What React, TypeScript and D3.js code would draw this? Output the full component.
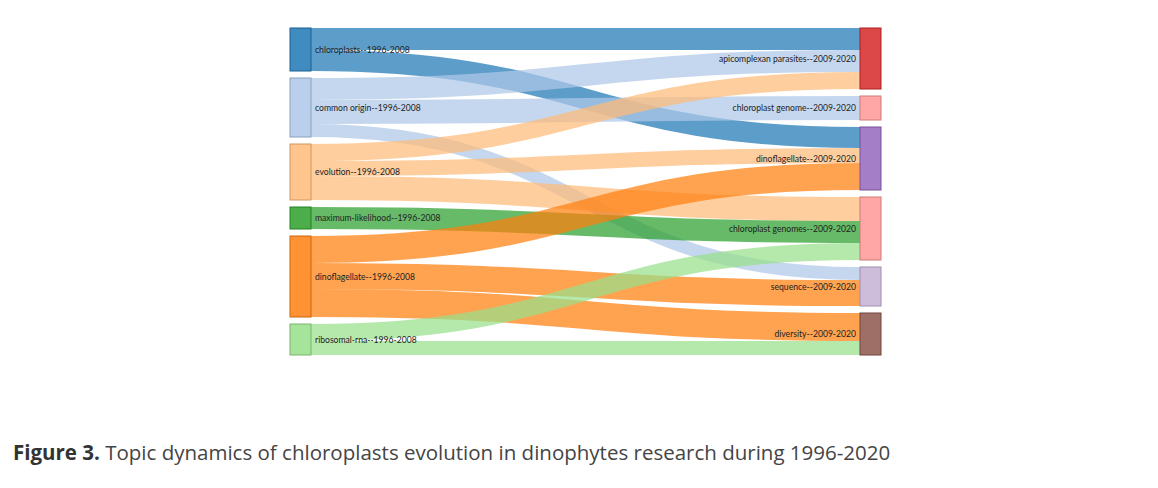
import { useEffect, useRef } from 'react';
import * as d3 from 'd3';

// left column (1996-2008) and right column (2009-2020), top to bottom
const leftTopics = [
  'chloroplasts--1996-2008',
  'common origin--1996-2008',
  'evolution--1996-2008',
  'maximum-likelihood--1996-2008',
  'dinoflagellate--1996-2008',
  'ribosomal-rna--1996-2008',
];
const rightTopics = [
  'apicomplexan parasites--2009-2020',
  'chloroplast genome--2009-2020',
  'dinoflagellate--2009-2020',
  'chloroplast genomes--2009-2020',
  'sequence--2009-2020',
  'diversity--2009-2020',
];
const leftColors = ['#1f77b4', '#aec7e8', '#ffbb78', '#2ca02c', '#ff7f0e', '#98df8a'];
const rightColors = ['#d62728', '#ff9896', '#9467bd', '#ff9896', '#c5b0d5', '#8c564b'];

// flows: [source index, target index, weight]
const flows: [number, number, number][] = [
  [0, 0, 22],
  [0, 2, 21],
  [1, 0, 22],
  [1, 1, 24],
  [1, 4, 13],
  [2, 0, 17],
  [2, 2, 15],
  [2, 3, 24],
  [3, 3, 22],
  [4, 2, 27],
  [4, 4, 26],
  [4, 5, 28],
  [5, 3, 17],
  [5, 5, 14],
];

interface SNode {
  name: string;
  color: string;
  col: number;
  value: number;
  x0: number;
  x1: number;
  y0: number;
  y1: number;
}

const App = () => {
  const svgRef = useRef<SVGSVGElement>(null);

  useEffect(() => {
    if (!svgRef.current) return;
    const svg = d3.select(svgRef.current);
    svg.selectAll('*').remove();

    const top = 28;
    const bottom = 355;
    const padding = 7;
    const nodeWidth = 21;

    const xScale = d3.scaleLinear().domain([0, 1]).range([290, 860]);

    const left: SNode[] = leftTopics.map((name, i) => ({
      name, color: leftColors[i], col: 0,
      value: d3.sum(flows.filter(f => f[0] === i), f => f[2]),
      x0: 0, x1: 0, y0: 0, y1: 0,
    }));
    const right: SNode[] = rightTopics.map((name, i) => ({
      name, color: rightColors[i], col: 1,
      value: d3.sum(flows.filter(f => f[1] === i), f => f[2]),
      x0: 0, x1: 0, y0: 0, y1: 0,
    }));

    const maxTotal = Math.max(d3.sum(left, n => n.value), d3.sum(right, n => n.value));
    const n = Math.max(left.length, right.length);
    const vScale = d3.scaleLinear()
      .domain([0, maxTotal])
      .range([0, bottom - top - (n - 1) * padding]);

    [left, right].forEach((column, c) => {
      let y = top;
      column.forEach(node => {
        node.x0 = xScale(c);
        node.x1 = node.x0 + nodeWidth;
        node.y0 = y;
        node.y1 = y + vScale(node.value);
        y = node.y1 + padding;
      });
    });

    // link offsets: ordered by the other end's position
    const srcOffset = left.map(nd => nd.y0);
    const tgtOffset = right.map(nd => nd.y0);
    const links = flows.map(([s, t, v]) => ({ s, t, v, w: vScale(v), sy: 0, ty: 0 }));
    left.forEach((_, i) => {
      links.filter(l => l.s === i).sort((a, b) => a.t - b.t).forEach(l => {
        l.sy = srcOffset[i] + l.w / 2;
        srcOffset[i] += l.w;
      });
    });
    right.forEach((_, i) => {
      links.filter(l => l.t === i).sort((a, b) => a.s - b.s).forEach(l => {
        l.ty = tgtOffset[i] + l.w / 2;
        tgtOffset[i] += l.w;
      });
    });

    const linkGen = d3.linkHorizontal<any, [number, number]>()
      .source(d => d[0])
      .target(d => d[1]);

    svg.append('g')
      .attr('fill', 'none')
      .selectAll('path')
      .data(links)
      .join('path')
      .attr('d', l => linkGen([[left[l.s].x1, l.sy], [right[l.t].x0, l.ty]] as any))
      .attr('stroke', l => left[l.s].color)
      .attr('stroke-opacity', 0.72)
      .attr('stroke-width', l => l.w);

    const nodes = [...left, ...right];
    svg.append('g')
      .selectAll('rect')
      .data(nodes)
      .join('rect')
      .attr('x', d => d.x0)
      .attr('y', d => d.y0)
      .attr('width', d => d.x1 - d.x0)
      .attr('height', d => d.y1 - d.y0)
      .attr('fill', d => d.color)
      .attr('fill-opacity', 0.85)
      .attr('stroke', d => d3.rgb(d.color).darker(0.6).formatHex())
      .attr('stroke-width', 1);

    svg.append('g')
      .attr('font-family', 'Lato, sans-serif')
      .attr('font-size', 8.6)
      .attr('fill', '#222')
      .selectAll('text')
      .data(nodes)
      .join('text')
      .attr('x', d => (d.col === 0 ? d.x1 + 4 : d.x0 - 4))
      .attr('y', d => (d.y0 + d.y1) / 2)
      .attr('dy', '0.35em')
      .attr('text-anchor', d => (d.col === 0 ? 'start' : 'end'))
      .text(d => d.name);

    const caption = svg.append('text')
      .attr('x', 13)
      .attr('y', 460)
      .attr('font-family', '"Open Sans", sans-serif')
      .attr('font-size', 20.5)
      .attr('fill', '#444');
    caption.append('tspan').attr('font-weight', 'bold').attr('fill', '#333').text('Figure 3.');
    caption.append('tspan').text(' Topic dynamics of chloroplasts evolution in dinophytes research during 1996-2020');
  }, []);

  return (
    <svg
      ref={svgRef}
      width={1158}
      height={488}
      style={{ position: 'absolute', left: 0, top: 0, background: '#fff' }}
    />
  );
};

export default App;
